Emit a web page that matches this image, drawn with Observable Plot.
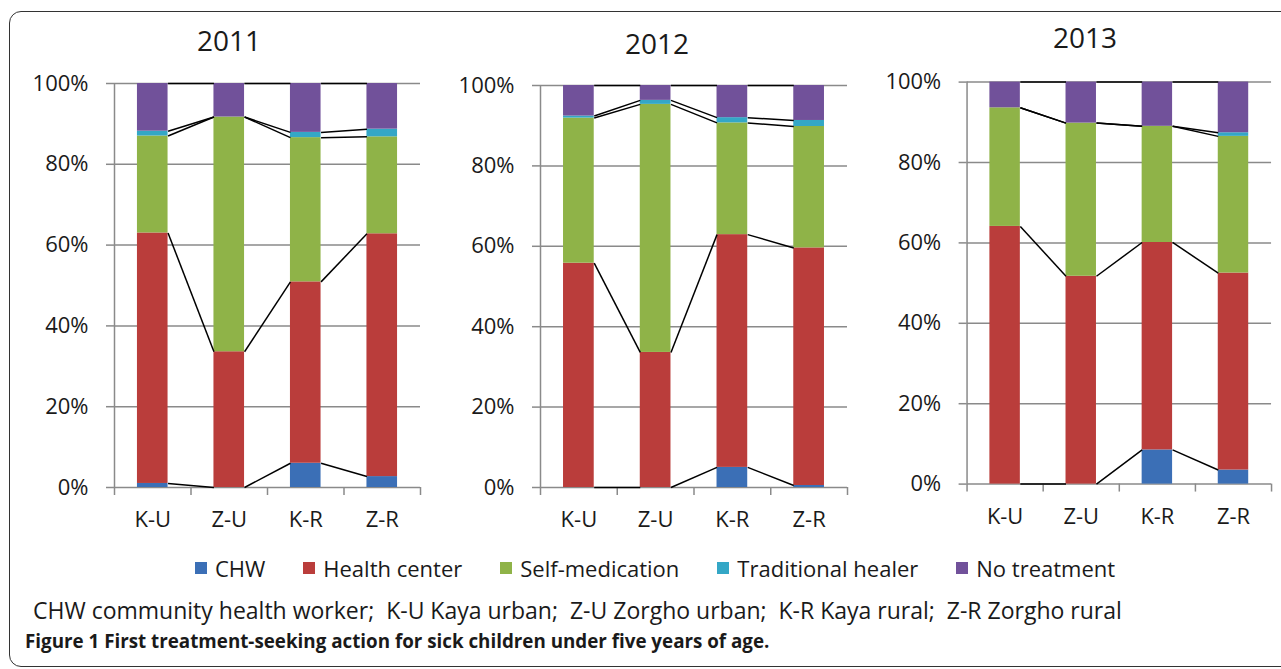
<!DOCTYPE html>
<html>
<head>
<meta charset="utf-8">
<script src="https://cdn.jsdelivr.net/npm/d3@7"></script>
<script src="https://cdn.jsdelivr.net/npm/@observablehq/plot@0.6"></script>
<style>
  html, body { margin: 0; padding: 0; background: #fff; }
  body { width: 1281px; height: 669px; position: relative; overflow: hidden; font-family: "Open Sans", sans-serif; color: #1a1a1a; }
  .frame { position: absolute; left: 9px; top: 11px; width: 1300px; height: 656px; border: 1.5px solid #333; border-radius: 12px; box-sizing: border-box; }
  .panel { position: absolute; top: 0; }
  .title { position: absolute; width: 200px; text-align: center; font-size: 28px; line-height: 28px; }
  .legend { position: absolute; left: 0; width: 1310px; top: 554px; display: flex; justify-content: center; gap: 38px; font-size: 22px; line-height: 28px; }
  .legend .item { display: flex; align-items: center; }
  .legend .sw { width: 12px; height: 12px; margin-right: 8px; }
  .note { position: absolute; left: 33px; top: 595px; font-size: 23px; line-height: 30px; white-space: pre; }
  .caption { position: absolute; left: 25px; top: 629px; font-size: 18.8px; line-height: 24px; font-weight: 700; white-space: pre; }
</style>
</head>
<body>
<div class="frame"></div>
<div id="charts"></div>
<div class="legend" id="legend"></div>
<div class="note" id="note"></div>
<div class="caption" id="caption"></div>
<script>
// ---- data (percent of children) ----
const categories = ["K-U", "Z-U", "K-R", "Z-R"];
const seriesNames = ["CHW", "Health center", "Self-medication", "Traditional healer", "No treatment"];
const seriesColors = ["#3b6fb6", "#ba3d3b", "#8fb348", "#34a7c6", "#71519a"];
const years = ["2011", "2012", "2013"];
const yTicks = [0, 20, 40, 60, 80, 100];

const chw2011 = [1.0, 0.0, 6.0, 2.7];
const hc2011  = [62.0, 33.6, 44.9, 60.1];
const sm2011  = [24.0, 58.1, 35.7, 24.0];
const th2011  = [1.2, 0.0, 1.3, 1.9];
const nt2011  = [11.8, 8.3, 12.1, 11.3];

const chw2012 = [0.0, 0.0, 5.0, 0.5];
const hc2012  = [55.8, 33.6, 57.9, 59.1];
const sm2012  = [36.1, 61.7, 27.8, 30.2];
const th2012  = [0.5, 1.0, 1.3, 1.5];
const nt2012  = [7.6, 3.7, 8.0, 8.7];

const chw2013 = [0.0, 0.0, 8.5, 3.5];
const hc2013  = [64.1, 51.7, 51.6, 49.0];
const sm2013  = [29.5, 38.1, 28.9, 34.0];
const th2013  = [0.0, 0.0, 0.0, 0.9];
const nt2013  = [6.4, 10.2, 11.0, 12.6];

const noteText = "CHW community health worker;  K-U Kaya urban;  Z-U Zorgho urban;  K-R Kaya rural;  Z-R Zorgho rural";
const captionBold = "Figure 1";
const captionText = " First treatment-seeking action for sick children under five years of age.";

// ---- layout ----
const panels = [
  {year: years[0], arrays: [chw2011, hc2011, sm2011, th2011, nt2011], left: 20, marginLeft: 94, plotW: 306, marginTop: 83, plotH: 404, titleX: 229, titleTop: 26},
  {year: years[1], arrays: [chw2012, hc2012, sm2012, th2012, nt2012], left: 450, marginLeft: 90, plotW: 307, marginTop: 85, plotH: 402, titleX: 657, titleTop: 29},
  {year: years[2], arrays: [chw2013, hc2013, sm2013, th2013, nt2013], left: 877, marginLeft: 90, plotW: 306, marginTop: 82, plotH: 404, titleX: 1085, titleTop: 23}
];

const grey = "#8a8a8a";
const half = 0.2; // half bar width in category units

function makePanel(p) {
  const rows = [];
  const tops = categories.map(() => []);
  categories.forEach((c, i) => {
    let cum = 0;
    seriesNames.forEach((s, k) => {
      const v = p.arrays[k][i];
      rows.push({i, cat: c, series: s, y1: cum, y2: cum + v});
      cum += v;
      tops[i].push(cum);
    });
  });
  const links = [];
  for (let k = 0; k < seriesNames.length; k++) {
    for (let i = 0; i < categories.length - 1; i++) {
      links.push({x1: i + half, x2: i + 1 - half, y1: tops[i][k], y2: tops[i + 1][k]});
    }
  }
  const marginRight = 10, marginBottom = 53;
  const chart = Plot.plot({
    width: p.marginLeft + p.plotW + marginRight,
    height: p.marginTop + p.plotH + marginBottom,
    marginLeft: p.marginLeft,
    marginRight,
    marginTop: p.marginTop,
    marginBottom,
    x: {domain: [-0.5, categories.length - 0.5]},
    y: {domain: [0, 100]},
    color: {domain: seriesNames, range: seriesColors},
    style: {fontFamily: "Open Sans, sans-serif", fontSize: "22px", color: "#1a1a1a", background: "transparent", overflow: "visible"},
    marks: [
      Plot.gridY(yTicks, {stroke: grey, strokeOpacity: 1, strokeWidth: 1.5}),
      Plot.axisY({ticks: yTicks, tickFormat: d => d + "%", tickSize: 8, tickPadding: 18, stroke: grey, strokeWidth: 1.5, fontSize: 22, label: null}),
      Plot.ruleX([-0.5], {stroke: grey, strokeWidth: 1.5}),
      Plot.axisX({ticks: d3.range(-0.5, categories.length, 1), tickFormat: () => "", tickSize: 8, stroke: grey, strokeWidth: 1.5, label: null}),
      Plot.axisX({ticks: d3.range(categories.length), tickFormat: i => categories[i], tickSize: 0, tickPadding: 24, fontSize: 22, label: null}),
      Plot.rectY(rows, {x1: d => d.i - half, x2: d => d.i + half, y1: "y1", y2: "y2", fill: "series"}),
      Plot.link(links, {x1: "x1", y1: "y1", x2: "x2", y2: "y2", stroke: "#000", strokeWidth: 1.5})
    ]
  });
  const holder = document.createElement("div");
  holder.className = "panel";
  holder.style.left = p.left + "px";
  holder.appendChild(chart);
  document.getElementById("charts").appendChild(holder);

  const t = document.createElement("div");
  t.className = "title";
  t.style.left = (p.titleX - 100) + "px";
  t.style.top = p.titleTop + "px";
  t.textContent = p.year;
  document.body.appendChild(t);
}

panels.forEach(makePanel);

// legend
const legend = document.getElementById("legend");
seriesNames.forEach((s, k) => {
  const item = document.createElement("div");
  item.className = "item";
  const sw = document.createElement("span");
  sw.className = "sw";
  sw.style.background = seriesColors[k];
  const label = document.createElement("span");
  label.textContent = s;
  item.appendChild(sw);
  item.appendChild(label);
  legend.appendChild(item);
});

document.getElementById("note").textContent = noteText;
const cap = document.getElementById("caption");
const b = document.createElement("span");
b.textContent = captionBold;
cap.appendChild(b);
const rest = document.createElement("span");
rest.textContent = captionText;
cap.appendChild(rest);
</script>
</body>
</html>
